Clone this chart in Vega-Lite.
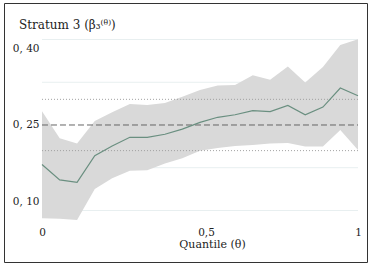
{
  "$schema": "https://vega.github.io/schema/vega-lite/v6.json",
  "width": 363,
  "height": 259,
  "autosize": {"type": "none"},
  "padding": {"left": 4, "top": 3, "right": 7, "bottom": 1},
  "background": "white",
  "config": {
    "view": {"stroke": "#333333", "strokeWidth": 1},
    "font": "DejaVu Serif"
  },
  "title": {
    "text": "Stratum 3 (β₃⁽ᶿ⁾)",
    "anchor": "start",
    "frame": "group",
    "orient": "top",
    "offset": -29,
    "dx": 15,
    "font": "DejaVu Serif",
    "fontSize": 12,
    "fontWeight": "normal",
    "color": "#222222"
  },
  "resolve": {"axis": {"x": "independent", "y": "independent"}},
  "datasets": {
    "est": [
      {"theta": 0.000, "beta": 0.173, "lo": 0.068, "hi": 0.277},
      {"theta": 0.056, "beta": 0.143, "lo": 0.067, "hi": 0.224},
      {"theta": 0.111, "beta": 0.138, "lo": 0.065, "hi": 0.214},
      {"theta": 0.167, "beta": 0.190, "lo": 0.125, "hi": 0.258},
      {"theta": 0.222, "beta": 0.209, "lo": 0.146, "hi": 0.275},
      {"theta": 0.278, "beta": 0.226, "lo": 0.161, "hi": 0.291},
      {"theta": 0.333, "beta": 0.226, "lo": 0.162, "hi": 0.289},
      {"theta": 0.389, "beta": 0.232, "lo": 0.175, "hi": 0.293},
      {"theta": 0.444, "beta": 0.242, "lo": 0.185, "hi": 0.305},
      {"theta": 0.500, "beta": 0.255, "lo": 0.200, "hi": 0.318},
      {"theta": 0.556, "beta": 0.265, "lo": 0.205, "hi": 0.327},
      {"theta": 0.611, "beta": 0.270, "lo": 0.209, "hi": 0.328},
      {"theta": 0.667, "beta": 0.278, "lo": 0.211, "hi": 0.347},
      {"theta": 0.722, "beta": 0.276, "lo": 0.214, "hi": 0.338},
      {"theta": 0.778, "beta": 0.288, "lo": 0.215, "hi": 0.364},
      {"theta": 0.833, "beta": 0.270, "lo": 0.208, "hi": 0.333},
      {"theta": 0.889, "beta": 0.285, "lo": 0.208, "hi": 0.363},
      {"theta": 0.944, "beta": 0.322, "lo": 0.240, "hi": 0.406},
      {"theta": 1.000, "beta": 0.307, "lo": 0.201, "hi": 0.417}
    ],
    "grid": [
      {"g": 0.0833}, {"g": 0.1667}, {"g": 0.3333}, {"g": 0.4167}
    ],
    "dotted": [
      {"ref": 0.20}, {"ref": 0.30}
    ],
    "dashed": [
      {"ref": 0.25}
    ]
  },
  "layer": [
    {
      "data": {"name": "grid"},
      "mark": {"type": "rule", "stroke": "#e8eff0", "strokeWidth": 1},
      "encoding": {
        "x": {"datum": 0, "type": "quantitative", "scale": {"domain": [-0.12025, 1.02848], "nice": false, "zero": false}, "axis": null},
        "x2": {"datum": 1},
        "y": {"field": "g", "type": "quantitative", "scale": {"domain": [-0.0171, 0.4878], "nice": false, "zero": false}, "axis": null}
      }
    },
    {
      "data": {"name": "est"},
      "mark": {"type": "area", "fill": "#d9d9d9", "opacity": 1},
      "encoding": {
        "x": {
          "field": "theta", "type": "quantitative",
          "scale": {"domain": [-0.12025, 1.02848], "nice": false, "zero": false},
          "axis": {
            "values": [0, 0.5, 1],
            "labelExpr": "datum.value == 0.5 ? '0,5' : format(datum.value, 'd')",
            "domain": false, "ticks": false, "grid": false,
            "offset": -30, "labelPadding": 0, "labelBaseline": "middle",
            "labelFont": "DejaVu Serif", "labelFontSize": 10.5, "labelColor": "#222222",
            "labelOffset": {"condition": {"test": "datum.value == 0.5", "value": 6}, "value": 0},
            "labelFlush": false,
            "title": "Quantile (θ)",
            "titleFont": "DejaVu Serif", "titleFontSize": 11, "titleFontWeight": "normal", "titleColor": "#222222",
            "titleX": 208, "titleY": 12, "titleBaseline": "middle", "titleAlign": "center"
          }
        },
        "y": {
          "field": "lo", "type": "quantitative",
          "scale": {"domain": [-0.0171, 0.4878], "nice": false, "zero": false},
          "axis": {
            "values": [0.1, 0.25, 0.4],
            "labelExpr": "replace(format(datum.value, '.2f'), '.', ', ')",
            "domain": false, "ticks": false, "grid": false,
            "offset": -35, "labelPadding": 0,
            "labelFont": "DejaVu Serif", "labelFontSize": 10.5, "labelColor": "#222222",
            "labelFlush": false,
            "title": null
          }
        },
        "y2": {"field": "hi"}
      }
    },
    {
      "data": {"name": "dotted"},
      "mark": {"type": "rule", "stroke": "#a0a0a0", "strokeWidth": 1, "strokeDash": [1, 2]},
      "encoding": {
        "x": {"datum": 0, "type": "quantitative", "scale": {"domain": [-0.12025, 1.02848], "nice": false, "zero": false}, "axis": null},
        "x2": {"datum": 1},
        "y": {"field": "ref", "type": "quantitative", "scale": {"domain": [-0.0171, 0.4878], "nice": false, "zero": false}, "axis": null}
      }
    },
    {
      "data": {"name": "dashed"},
      "mark": {"type": "rule", "stroke": "#666666", "strokeWidth": 1, "strokeDash": [6, 3]},
      "encoding": {
        "x": {"datum": 0, "type": "quantitative", "scale": {"domain": [-0.12025, 1.02848], "nice": false, "zero": false}, "axis": null},
        "x2": {"datum": 1},
        "y": {"field": "ref", "type": "quantitative", "scale": {"domain": [-0.0171, 0.4878], "nice": false, "zero": false}, "axis": null}
      }
    },
    {
      "data": {"name": "est"},
      "mark": {"type": "line", "stroke": "#6a8f80", "strokeWidth": 1.2},
      "encoding": {
        "x": {"field": "theta", "type": "quantitative", "scale": {"domain": [-0.12025, 1.02848], "nice": false, "zero": false}, "axis": null},
        "y": {"field": "beta", "type": "quantitative", "scale": {"domain": [-0.0171, 0.4878], "nice": false, "zero": false}, "axis": null}
      }
    }
  ]
}
